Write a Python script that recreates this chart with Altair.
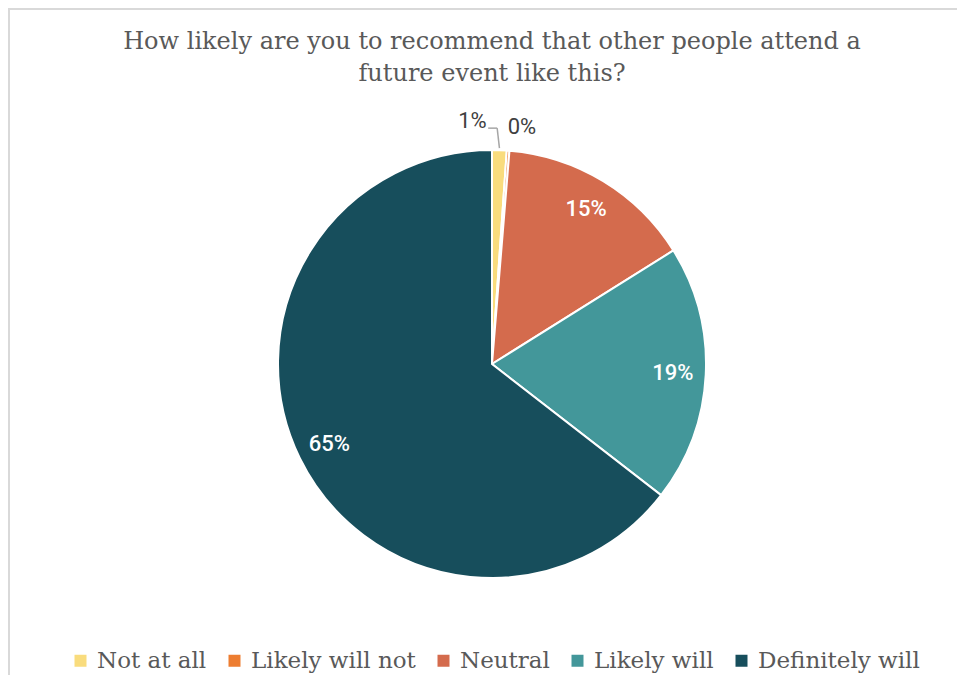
import math
import altair as alt
import pandas as pd

categories = ["Not at all", "Likely will not", "Neutral", "Likely will", "Definitely will"]
values = [1.1, 0.2, 14.8, 19.4, 64.5]
pct_labels = ["1%", "0%", "15%", "19%", "65%"]
colors = ["#F9DC7D", "#ED7D31", "#D46B4D", "#43979A", "#174E5C"]
title_lines = ["How likely are you to recommend that other people attend a",
               "future event like this?"]

W, H = 930, 512
PL, PT, PR, PB = 19, 100, 0, 55
R = 214

df = pd.DataFrame({"cat": categories, "value": values, "label": pct_labels,
                   "order": list(range(len(categories)))})

theta = alt.Theta("value:Q", stack=True)
order = alt.Order("order:Q")
color = alt.Color("cat:N", sort=categories,
                  scale=alt.Scale(domain=categories, range=colors),
                  legend=alt.Legend(title=None, orient="none", direction="horizontal",
                                    legendX=42, legendY=541,
                                    symbolType="square", symbolSize=144,
                                    symbolStrokeWidth=0, labelFont="DejaVu Serif",
                                    labelFontSize=23, labelColor="#595959",
                                    labelOffset=5, columnPadding=16, labelLimit=400))

base = alt.Chart(df)

pie = base.mark_arc(outerRadius=R, stroke="white", strokeWidth=2).encode(
    theta=theta, order=order, color=color)

inner = base.mark_text(radius=181, font="Roboto", fontSize=22, fontWeight=500,
                       color="white").encode(
    theta=theta, order=order, text="label:N",
    opacity=alt.condition("datum.order >= 2", alt.value(1), alt.value(0)))

out1 = base.mark_text(radius=243, dx=-28, font="Roboto", fontSize=22,
                      color="#404040").encode(
    theta=theta, order=order, text="label:N",
    opacity=alt.condition("datum.order == 0", alt.value(1), alt.value(0)))

out2 = base.mark_text(radius=238, dx=12, font="Roboto", fontSize=22,
                      color="#404040").encode(
    theta=theta, order=order, text="label:N",
    opacity=alt.condition("datum.order == 1", alt.value(1), alt.value(0)))

# leader line for the first slice, computed from its mid angle
total = sum(values)
mid = (values[0] / 2) / total * 2 * math.pi
cx, cy = W / 2, H / 2
p_end = (cx + (R + 2) * math.sin(mid), cy - (R + 2) * math.cos(mid))
p_elb = (cx + (R + 22) * math.sin(mid) - 3, cy - (R + 22) * math.cos(mid))
p_start = (p_elb[0] - 9, p_elb[1])

one = pd.DataFrame({"k": [0]})
lead1 = alt.Chart(one).mark_rule(color="#A6A6A6", strokeWidth=1.5).encode(
    x=alt.value(p_start[0]), x2=alt.value(p_elb[0]),
    y=alt.value(p_start[1]), y2=alt.value(p_elb[1]))
lead2 = alt.Chart(one).mark_rule(color="#A6A6A6", strokeWidth=1.5).encode(
    x=alt.value(p_elb[0]), x2=alt.value(p_end[0]),
    y=alt.value(p_elb[1]), y2=alt.value(p_end[1]))

# chart frame (left and top edges)
bl = alt.Chart(one).mark_rule(color="#D9D9D9", strokeWidth=2).encode(
    x=alt.value(1 - PL), x2=alt.value(1 - PL),
    y=alt.value(0 - PT), y2=alt.value(H + PB))
bt = alt.Chart(one).mark_rule(color="#D9D9D9", strokeWidth=2).encode(
    x=alt.value(0 - PL), x2=alt.value(W + PR),
    y=alt.value(1 - PT), y2=alt.value(1 - PT))

chart = alt.layer(pie, inner, out1, out2, lead1, lead2, bl, bt).properties(
    width=W, height=H,
    autosize=alt.AutoSizeParams(type="none"),
    padding={"left": PL, "top": PT, "right": PR, "bottom": PB},
    title=alt.Title(title_lines, font="DejaVu Serif", fontSize=24,
                    fontWeight="normal", color="#595959", lineHeight=32,
                    anchor="middle", frame="group", offset=0, dy=79),
).configure(background="white", view=alt.ViewConfig(strokeWidth=0, stroke="transparent"))

chart.save("out.html", embed_options={"renderer": "svg", "actions": False})
